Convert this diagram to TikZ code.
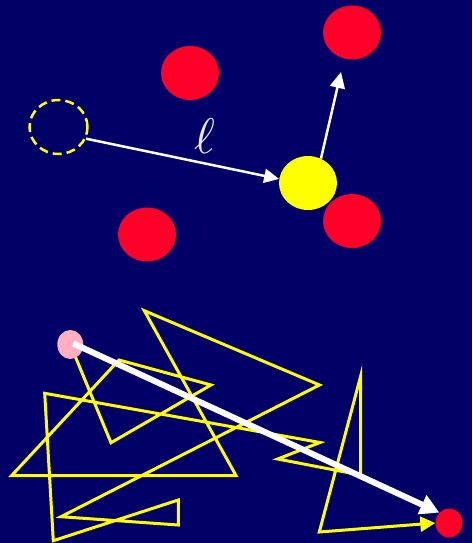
\documentclass[tikz,border=0pt]{standalone}
\usetikzlibrary{shapes.geometric,arrows.meta}
\definecolor{bgnavy}{RGB}{0,0,102}
\definecolor{dotred}{RGB}{255,0,40}
\definecolor{dotyellow}{RGB}{255,255,0}
\definecolor{dotpink}{RGB}{255,176,192}
\pgfdeclarelayer{bglayer}
\pgfdeclarelayer{walklayer}
\pgfdeclarelayer{frontlayer}
\pgfsetlayers{bglayer,walklayer,main,frontlayer}
\tikzset{
  dot/.style={ellipse,inner sep=0pt,minimum width=58pt,minimum height=54pt,draw=none},
  reddot/.style={dot,fill=dotred},
  wire/.style={draw=white,line width=2.5pt,-{Triangle[length=15pt,width=14pt]}},
  walk/.style={draw=dotyellow,line width=3pt},
}
\begin{document}
\begin{tikzpicture}[x=1pt,y=-1pt]
\begin{pgfonlayer}{bglayer}
\fill[bgnavy] (0,0) rectangle (472,543);
\end{pgfonlayer}
\useasboundingbox (0,0) rectangle (472,543);
% top part
\node[reddot] (r1) at (190,73) {};
\node[reddot] (r2) at (352,32.5) {};
\node[reddot] (r3) at (352,221) {};
\node[reddot] (r4) at (147,234.5) {};
\node[dot,fill=dotyellow] (y) at (308,183) {};
\node[dot,draw=dotyellow,line width=2.5pt,dash pattern=on 9pt off 5pt] (d) at (58.5,127) {};
\coordinate (up) at (341,72);
\draw[wire] (d.-23) -- (y.172);
\draw[wire,-{Triangle[length=16pt,width=15pt]}] (y.62) -- (up);
\node[text=white!92!blue,scale=5] (ell) at (205,136) {$\ell$};
% bottom part
\node[dot,fill=dotpink,minimum width=26pt,minimum height=29pt] (p) at (70.3,344.5) {};
\node[dot,fill=dotred,minimum width=27pt,minimum height=29pt] (q) at (449,523) {};
\coordinate (w1) at (111,442.7);
\coordinate (w2) at (211,385);
\coordinate (w3) at (119,360);
\coordinate (w4) at (11.7,475.5);
\coordinate (w5) at (236,475.5);
\coordinate (w6) at (144.3,310.7);
\coordinate (w7) at (319.5,385);
\coordinate (w8) at (61,516.7);
\coordinate (w9) at (178.3,525);
\coordinate (w10) at (178.3,500);
\coordinate (w11) at (53.3,540.7);
\coordinate (w12) at (44.7,393.3);
\coordinate (w13) at (320,442.5);
\coordinate (w14) at (277.7,459);
\coordinate (w15) at (360.5,475);
\coordinate (w16) at (360.7,376);
\coordinate (w17) at (319.3,532);
\begin{pgfonlayer}{walklayer}
\draw[walk,-{Triangle[length=15pt,width=15pt]}] (p.center) -- (w1) -- (w2) -- (w3) -- (w4) -- (w5) -- (w6) -- (w7) -- (w8) -- (w9) -- (w10) -- (w11) -- (w12) -- (w13) -- (w14) -- (w15) -- (w16) -- (w17) -- (q.west);
\end{pgfonlayer}
\begin{pgfonlayer}{frontlayer}
\draw[draw=white,line width=6pt,-{Triangle[length=19pt,width=20pt]}] (p.center) ++(3,-1) -- (q.133);
\end{pgfonlayer}
\end{tikzpicture}
\end{document}
